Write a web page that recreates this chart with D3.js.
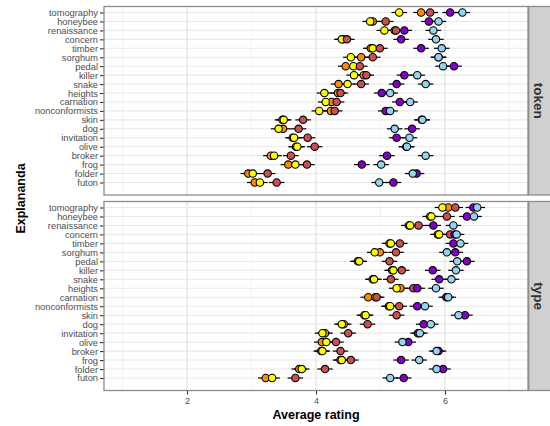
<!DOCTYPE html>
<html><head><meta http-equiv="Content-Type" content="text/html; charset=UTF-8"><style>
body { margin: 0; background: #fff; }
svg { font-family: "Liberation Sans", Arial, sans-serif; }
</style>
</head>
<body>
<svg width="550" height="426"></svg>
<script src="https://cdn.jsdelivr.net/npm/d3@7"></script>
<script>

var words = ["tomography", "honeybee", "renaissance", "concern", "timber", "sorghum", "pedal",
             "killer", "snake", "heights", "carnation", "nonconformists", "skin", "dog",
             "invitation", "olive", "broker", "frog", "folder", "futon"];
var facets = ["token", "type"];
var xTicks = [2, 4, 6];

// token panel
var tokenOrange = [5.63, 4.88, 5.22, 4.42, 4.85, 4.70, 4.46, 4.74, 4.35, 4.34, 4.24, 4.23, 3.48, 3.49, 3.64, 3.69, 3.30, 3.57, 2.95, 3.05];
var tokenYellow = [5.29, 4.84, 5.06, 4.40, 4.88, 4.54, 4.58, 4.59, 4.49, 4.13, 4.15, 4.05, 3.50, 3.42, 3.66, 3.71, 3.35, 3.68, 3.02, 3.13];
var tokenRed    = [5.77, 5.08, 5.24, 4.48, 4.99, 4.88, 4.68, 4.78, 4.70, 4.38, 4.32, 4.29, 3.80, 3.73, 3.87, 3.98, 3.61, 3.86, 3.25, 3.39];
var tokenPurple = [6.08, 5.75, 5.37, 5.32, 5.63, 5.90, 6.14, 5.37, 5.25, 5.02, 5.30, 5.08, 5.64, 5.49, 5.25, 5.40, 5.10, 4.71, 5.56, 5.20];
var tokenBlue   = [6.27, 5.90, 5.82, 5.86, 5.95, 5.90, 5.97, 5.57, 5.70, 5.15, 5.46, 5.15, 5.65, 5.22, 5.45, 5.41, 5.70, 5.01, 5.50, 4.98];

// type panel
var typeOrange = [6.05, 5.77, 5.44, 5.89, 5.14, 4.99, 4.65, 5.18, 4.88, 5.31, 4.81, 5.13, 4.75, 4.43, 4.14, 4.09, 4.08, 4.38, 3.74, 3.22];
var typeYellow = [5.96, 5.79, 5.46, 5.91, 5.16, 4.91, 4.67, 5.20, 4.90, 5.25, 4.92, 5.15, 4.77, 4.40, 4.10, 4.16, 4.10, 4.40, 3.78, 3.32];
var typeRed    = [6.16, 6.03, 5.59, 6.08, 5.30, 5.24, 5.14, 5.33, 5.16, 5.51, 4.94, 5.29, 5.25, 4.80, 4.50, 4.31, 4.38, 4.54, 4.14, 3.68];
var typePurple = [6.44, 6.34, 5.82, 6.15, 6.13, 6.16, 6.34, 5.81, 5.91, 5.57, 6.02, 5.57, 6.31, 5.67, 5.58, 5.43, 5.90, 5.32, 5.97, 5.36];
var typeBlue   = [6.50, 6.45, 6.13, 6.18, 6.24, 6.03, 6.19, 6.17, 6.10, 5.86, 6.05, 5.69, 6.21, 5.78, 5.61, 5.34, 5.87, 5.60, 5.87, 5.15];

var seriesNames = ["orange", "yellow", "red", "purple", "blue"];
var seriesColors = ["#ff8c00", "#ffff00", "#c9504e", "#8000c8", "#94d3f2"];
var panelData = {
  token: [tokenOrange, tokenYellow, tokenRed, tokenPurple, tokenBlue],
  type: [typeOrange, typeYellow, typeRed, typePurple, typeBlue]
};
var ciHalf = 0.12;

var svg = d3.select("svg");
var left = 104, right = 528, stripW = 22;
var panels = [{top: 6.5, bottom: 195}, {top: 201.5, bottom: 390.5}];

var x = d3.scaleLinear().domain([0.713, 7.287]).range([left, right]);
var color = d3.scaleOrdinal().domain(seriesNames).range(seriesColors);

facets.forEach(function(f, pi) {
  var p = panels[pi];
  var y = d3.scalePoint().domain(words).range([p.top + 6, p.bottom - 12.5]);
  var g = svg.append("g");

  g.append("rect")
      .attr("x", left).attr("y", p.top)
      .attr("width", right - left).attr("height", p.bottom - p.top)
      .attr("fill", "#fff");

  // minor grid
  g.append("g").selectAll("line")
    .data([1, 3, 5, 7])
    .enter().append("line")
      .attr("x1", x).attr("x2", x)
      .attr("y1", p.top).attr("y2", p.bottom)
      .attr("stroke", "#f0f0f0").attr("stroke-width", 0.8);

  // major grid
  g.append("g").selectAll("line")
    .data(xTicks)
    .enter().append("line")
      .attr("x1", x).attr("x2", x)
      .attr("y1", p.top).attr("y2", p.bottom)
      .attr("stroke", "#e4e4e4").attr("stroke-width", 1.3);

  g.append("g").selectAll("line")
    .data(words)
    .enter().append("line")
      .attr("x1", left).attr("x2", right)
      .attr("y1", y).attr("y2", y)
      .attr("stroke", "#e9e9e9").attr("stroke-width", 1.1);

  var rows = [];
  panelData[f].forEach(function(vals, si) {
    vals.forEach(function(v, i) {
      rows.push({series: seriesNames[si], word: words[i], value: v});
    });
  });

  g.append("g").selectAll("line")
    .data(rows)
    .enter().append("line")
      .attr("x1", function(d) { return x(d.value - ciHalf); })
      .attr("x2", function(d) { return x(d.value + ciHalf); })
      .attr("y1", function(d) { return y(d.word); })
      .attr("y2", function(d) { return y(d.word); })
      .attr("stroke", "#000").attr("stroke-width", 1.2);

  g.append("g").selectAll("circle")
    .data(rows)
    .enter().append("circle")
      .attr("cx", function(d) { return x(d.value); })
      .attr("cy", function(d) { return y(d.word); })
      .attr("r", 3.7)
      .attr("fill", function(d) { return color(d.series); })
      .attr("stroke", "#000").attr("stroke-width", 1.1);

  // panel border
  g.append("rect")
      .attr("x", left).attr("y", p.top)
      .attr("width", right - left).attr("height", p.bottom - p.top)
      .attr("fill", "none").attr("stroke", "#8c8c8c").attr("stroke-width", 1.3);

  // strip
  g.append("rect")
      .attr("x", right + 0.7).attr("y", p.top)
      .attr("width", stripW).attr("height", p.bottom - p.top)
      .attr("fill", "#d0d0d0").attr("stroke", "#8c8c8c").attr("stroke-width", 1.3);
  g.append("text")
      .attr("transform", "translate(" + (right + 11) + "," + ((p.top + p.bottom) / 2) + ") rotate(90)")
      .attr("text-anchor", "middle")
      .attr("dy", "0.35em")
      .attr("font-size", 13.5)
      .attr("font-weight", "bold")
      .attr("fill", "#333")
      .text(f);

  // y axis
  var ya = g.append("g")
      .attr("transform", "translate(" + (left - 0.5) + ",0)")
      .call(d3.axisLeft(y).tickSize(3.5).tickPadding(2));
  ya.select(".domain").remove();
  ya.selectAll(".tick line").attr("stroke", "#333").attr("stroke-width", 1.1);
  ya.selectAll(".tick text")
      .attr("font-family", "Liberation Sans, Arial, sans-serif")
      .attr("font-size", 9.3).attr("fill", "#4d4d4d");

  if (pi === panels.length - 1) {
    var xa = g.append("g")
        .attr("transform", "translate(0," + (p.bottom + 0.5) + ")")
        .call(d3.axisBottom(x).tickValues(xTicks).tickFormat(d3.format("d")).tickSize(3.5).tickPadding(3));
    xa.select(".domain").remove();
    xa.selectAll(".tick line").attr("stroke", "#333").attr("stroke-width", 1.1);
    xa.selectAll(".tick text")
        .attr("font-family", "Liberation Sans, Arial, sans-serif")
        .attr("font-size", 9).attr("fill", "#4d4d4d");
  }
});

svg.append("text")
    .attr("x", (left + right) / 2)
    .attr("y", 419)
    .attr("text-anchor", "middle")
    .attr("font-size", 12.5)
    .attr("font-weight", "bold")
    .attr("fill", "#000")
    .text("Average rating");

svg.append("text")
    .attr("transform", "translate(25," + ((panels[0].top + panels[1].bottom) / 2) + ") rotate(-90)")
    .attr("text-anchor", "middle")
    .attr("font-size", 12.5)
    .attr("font-weight", "bold")
    .attr("fill", "#000")
    .text("Explananda");

</script>
</body></html>
